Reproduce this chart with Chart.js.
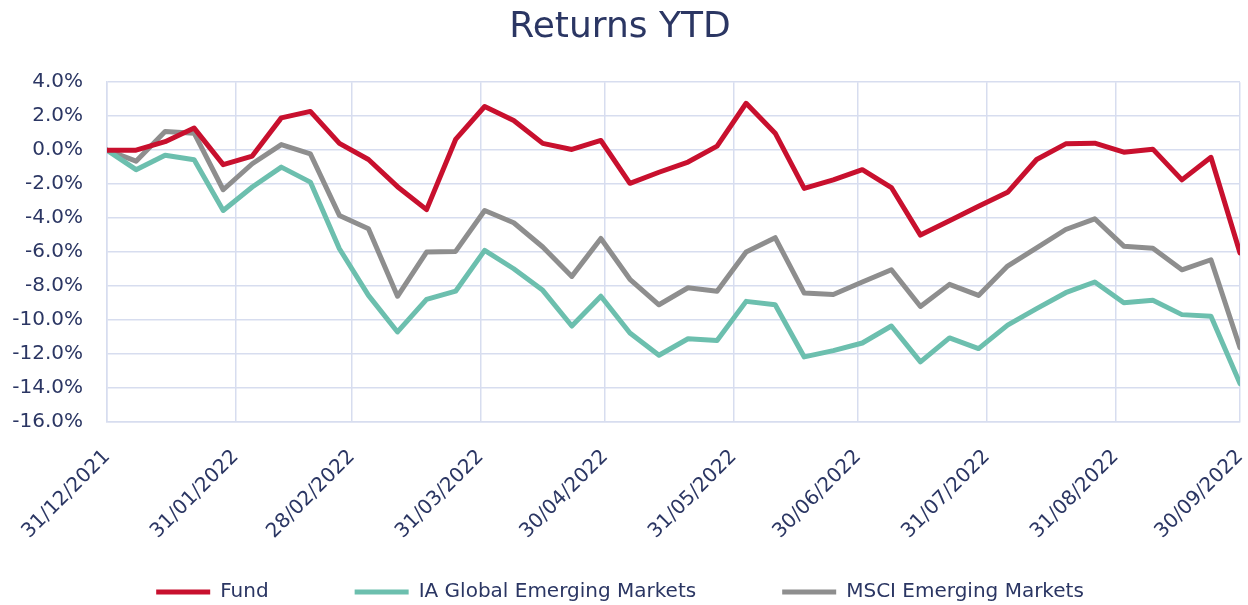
<!DOCTYPE html>
<html>
<head>
<meta charset="utf-8">
<script src="https://cdn.jsdelivr.net/npm/chart.js@4.4.1/dist/chart.umd.min.js"></script>
<style>
  html, body { margin: 0; padding: 0; background: #ffffff; }
  #wrap { width: 1248px; height: 605px; }
</style>
</head>
<body>
<div id="wrap"><canvas id="returnsChart"></canvas></div>
<script>
// Weekly dates (Fridays)
const weekDates = ['31/12/2021', '07/01/2022', '14/01/2022', '21/01/2022', '28/01/2022',
    '04/02/2022', '11/02/2022', '18/02/2022', '25/02/2022', '04/03/2022', '11/03/2022',
    '18/03/2022', '25/03/2022', '01/04/2022', '08/04/2022', '15/04/2022', '22/04/2022',
    '29/04/2022', '06/05/2022', '13/05/2022', '20/05/2022', '27/05/2022', '03/06/2022',
    '10/06/2022', '17/06/2022', '24/06/2022', '01/07/2022', '08/07/2022', '15/07/2022',
    '22/07/2022', '29/07/2022', '05/08/2022', '12/08/2022', '19/08/2022', '26/08/2022',
    '02/09/2022', '09/09/2022', '16/09/2022', '23/09/2022', '30/09/2022'];

// Returns in %
const fund = [0, 0.0, 0.5, 1.3, -0.85, -0.35, 1.9, 2.28, 0.4, -0.55, -2.15, -3.5, 0.63, 2.57,
    1.75, 0.4, 0.04, 0.57, -1.95, -1.3, -0.7, 0.24, 2.76, 1.0, -2.25, -1.75, -1.15, -2.2, -5.0,
    -4.15, -3.3, -2.48, -0.55, 0.37, 0.41, -0.12, 0.06, -1.75, -0.42, -6.05];
const iaGlobalEM = [0, -1.15, -0.3, -0.57, -3.55, -2.17, -1.0, -1.88, -5.8, -8.55, -10.7, -8.78,
    -8.3, -5.9, -6.98, -8.25, -10.35, -8.6, -10.76, -12.07, -11.1, -11.2, -8.9, -9.1, -12.17,
    -11.8, -11.35, -10.35, -12.46, -11.05, -11.68, -10.3, -9.33, -8.39, -7.76, -8.98, -8.84,
    -9.68, -9.78, -13.74];
const msciEM = [0, -0.65, 1.1, 1.0, -2.33, -0.8, 0.33, -0.22, -3.84, -4.63, -8.6, -6.0, -5.96,
    -3.55, -4.27, -5.7, -7.43, -5.2, -7.6, -9.1, -8.1, -8.31, -6.0, -5.15, -8.41, -8.5, -7.76,
    -7.04, -9.2, -7.9, -8.55, -6.82, -5.75, -4.67, -4.04, -5.65, -5.77, -7.04, -6.45, -11.63];

// Month-end tick labels on the date axis
const tickLabels = ['31/12/2021', '31/01/2022', '28/02/2022', '31/03/2022', '30/04/2022',
    '31/05/2022', '30/06/2022', '31/07/2022', '31/08/2022', '30/09/2022'];

const navy = '#2b3663';
const gridColor = '#d7ddef';

// days since the first date
function dayNum(s) {
    const [d, m, y] = s.split('/').map(Number);
    return Math.round((Date.UTC(y, m - 1, d) - Date.UTC(2021, 11, 31)) / 86400000);
}
const xDays = weekDates.map(dayNum);
const tickDays = tickLabels.map(dayNum);
const toPoints = values => values.map((v, i) => ({ x: xDays[i], y: v }));

Chart.defaults.font.family = 'DejaVu Sans';
Chart.defaults.color = navy;

const lineStyle = {
    borderWidth: 5,
    pointRadius: 0,
    pointHoverRadius: 0,
    tension: 0,
    borderJoinStyle: 'round',
    borderCapStyle: 'round',
    pointStyle: 'line'
};

// let the rotated date labels run below the axis box instead of being clipped
const unclipXLabels = {
    id: 'unclipXLabels',
    afterLayout(chart) {
        chart.scales.x.bottom = chart.height;
    }
};

const ctx = document.getElementById('returnsChart').getContext('2d');
const returnsChart = new Chart(ctx, {
    type: 'line',
    data: {
        datasets: [
            { label: 'Fund', data: toPoints(fund), borderColor: '#c8102e', backgroundColor: '#c8102e', ...lineStyle },
            { label: 'IA Global Emerging Markets', data: toPoints(iaGlobalEM), borderColor: '#6cbfae', backgroundColor: '#6cbfae', ...lineStyle },
            { label: 'MSCI Emerging Markets', data: toPoints(msciEM), borderColor: '#8e8e8e', backgroundColor: '#8e8e8e', ...lineStyle }
        ]
    },
    plugins: [unclipXLabels],
    options: {
        responsive: true,
        maintainAspectRatio: false,
        animation: false,
        layout: { padding: { left: 0, right: 8, top: 0, bottom: 0 } },
        plugins: {
            title: {
                display: true,
                text: 'Returns YTD',
                color: navy,
                font: { size: 36, weight: 'normal' },
                padding: { top: 6, bottom: 33 }
            },
            legend: {
                position: 'bottom',
                maxHeight: 109,
                labels: {
                    usePointStyle: true,
                    pointStyleWidth: 54,
                    padding: 86,
                    color: navy,
                    font: { size: 20 }
                }
            },
            tooltip: { enabled: false }
        },
        scales: {
            x: {
                type: 'linear',
                min: 0,
                max: tickDays[tickDays.length - 1],
                afterBuildTicks: scale => {
                    scale.ticks = tickDays.map(v => ({ value: v }));
                },
                afterFit: scale => {
                    scale.height = 74;
                    scale.paddingLeft = 0;
                    scale.paddingRight = 0;
                },
                grid: { color: gridColor, lineWidth: 1.5, drawTicks: false },
                border: { color: gridColor, width: 1.5 },
                ticks: {
                    autoSkip: false,
                    maxRotation: 45,
                    minRotation: 45,
                    padding: 23,
                    color: navy,
                    font: { size: 20 },
                    callback: value => tickLabels[tickDays.indexOf(value)]
                }
            },
            y: {
                min: -16,
                max: 4,
                afterFit: scale => { scale.width = 107; },
                grid: { color: gridColor, lineWidth: 1.5, drawTicks: false },
                border: { color: gridColor, width: 1.5 },
                ticks: {
                    stepSize: 2,
                    padding: 24,
                    color: navy,
                    font: { size: 20 },
                    callback: value => value.toFixed(1) + '%'
                }
            }
        }
    }
});
</script>
</body>
</html>
